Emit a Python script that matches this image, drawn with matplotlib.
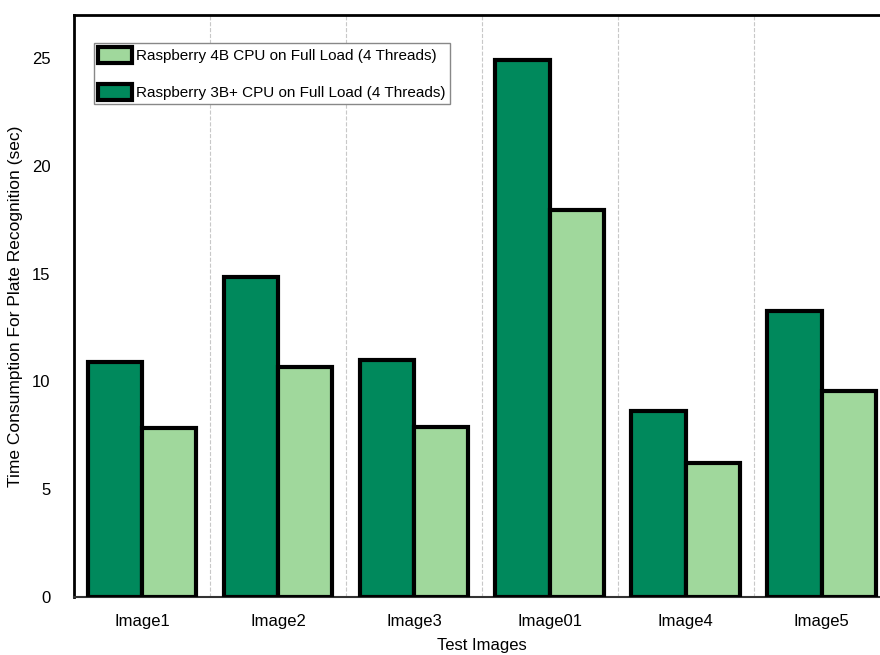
import numpy as np
import matplotlib
matplotlib.use("Agg")
import matplotlib.pyplot as plt

# values (seconds)
images = ["Image1", "Image2", "Image3", "Image01", "Image4", "Image5"]
pi3b = [10.9, 14.85, 11.0, 24.9, 8.65, 13.25]   # Raspberry 3B+
pi4b = [7.85, 10.65, 7.9, 17.95, 6.2, 9.55]     # Raspberry 4B
yticks = [0, 5, 10, 15, 20, 25]

DARK = "#00895c"
LIGHT = "#a0d89c"

plt.rcParams['font.family'] = ['Liberation Sans', 'DejaVu Sans']
plt.rcParams['font.size'] = 12

fig = plt.figure(figsize=(8.8, 6.55), dpi=100)
ax = fig.add_axes([0.0841, 0.0885, 0.927, 0.8885])

x = np.arange(len(images))
w = 0.4
ax.bar(x - w/2, pi3b, w, color=DARK, edgecolor="black", linewidth=3,
       label="Raspberry 3B+ CPU on Full Load (4 Threads)", zorder=3)
ax.bar(x + w/2, pi4b, w, color=LIGHT, edgecolor="black", linewidth=3,
       label="Raspberry 4B CPU on Full Load (4 Threads)", zorder=3)

ax.set_xlim(-0.5, len(images) - 0.5)
ax.set_ylim(0, 27)
ax.set_xticks(x)
ax.set_xticklabels(images)
ax.set_xticks(x[:-1] + 0.5, minor=True)
ax.set_yticks(yticks)
ax.tick_params(axis="both", which="both", length=0)
ax.tick_params(axis="x", pad=12)
ax.tick_params(axis="y", pad=17)
ax.grid(axis="x", which="minor", color="#c8c8c8", linestyle="--", linewidth=0.8, zorder=0)

for s in ["left", "top"]:
    ax.spines[s].set_linewidth(2)
    ax.spines[s].set_color("black")
ax.spines["bottom"].set_linewidth(1.5)
ax.spines["bottom"].set_color("#333333")
ax.spines["right"].set_linewidth(2)

ax.set_xlabel("Test Images", labelpad=7)
ax.set_ylabel("Time Consumption For Plate Recognition (sec)", labelpad=6, fontsize=12.5)

# legend lists the 4B first
h, l = ax.get_legend_handles_labels()
leg = ax.legend(h[::-1], l[::-1], loc="upper left", bbox_to_anchor=(0.025, 0.952),
                borderaxespad=0, fancybox=False, framealpha=1, edgecolor="#888888",
                handlelength=2.2, handleheight=1.25, handletextpad=0.3,
                borderpad=0.25, labelspacing=1.35, fontsize=11)
leg.get_frame().set_linewidth(1)

fig.savefig("out.png", dpi=100)
